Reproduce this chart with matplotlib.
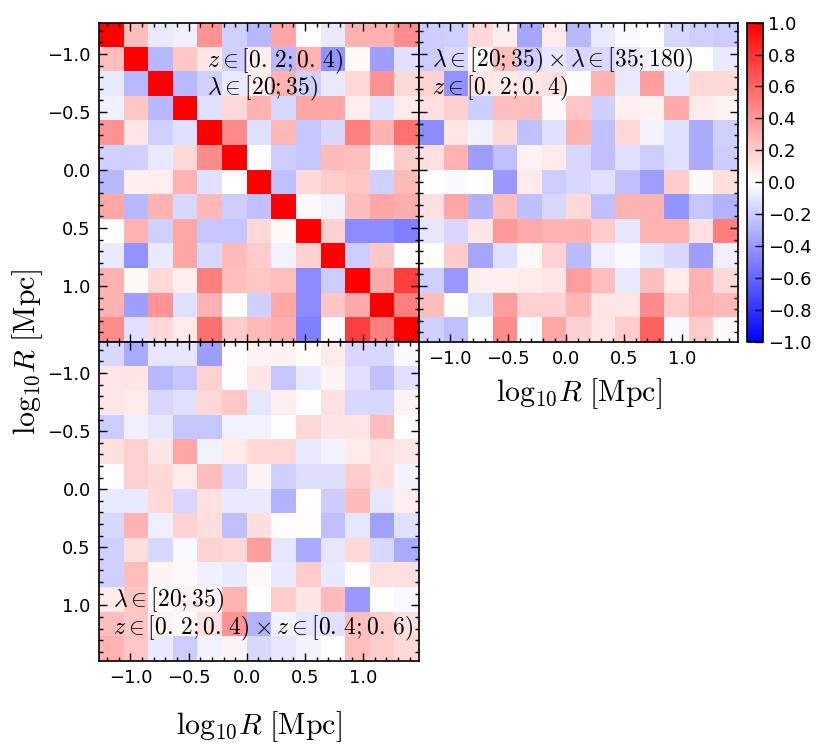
import numpy as np
import matplotlib
matplotlib.use('Agg')
import matplotlib.pyplot as plt
from matplotlib.ticker import MultipleLocator

plt.rcParams['mathtext.fontset'] = 'cm'
plt.rcParams['axes.linewidth'] = 1.2

# log10 R range of the 13 radial bins
r_lo, r_hi = -1.27, 1.48

# auto-correlation, lambda in [20;35), z in [0.2;0.4): lower triangle rows (diag = 1)
auto_lower = [
    [0.25],
    [-0.08, -0.28],
    [-0.06, 0.22, -0.28],
    [0.42, 0.10, -0.18, -0.12],
    [-0.18, -0.18, -0.08, 0.15, 0.45],
    [-0.28, 0.07, 0.07, 0.30, -0.12, 0.00],
    [0.35, -0.28, 0.30, -0.15, 0.28, -0.20, -0.25],
    [0.01, 0.30, -0.18, 0.35, -0.22, -0.22, 0.15, 0.03],
    [-0.08, -0.42, -0.08, 0.35, -0.15, 0.27, 0.20, -0.05, 0.18],
    [0.30, 0.02, 0.15, 0.07, 0.50, 0.25, 0.22, 0.25, -0.45, -0.20],
    [0.30, -0.38, 0.42, -0.12, 0.30, 0.01, -0.18, 0.35, -0.45, 0.22, 0.33],
    [0.45, -0.12, 0.15, 0.08, 0.55, 0.20, 0.27, 0.32, -0.50, 0.00, 0.75, 0.50],
]

# cross-correlation between richness bins
cross_lambda = [
    [-0.20, -0.18, 0.15, 0.07, -0.35, 0.08, -0.28, -0.08, -0.02, 0.00, -0.15, -0.18, -0.20],
    [-0.20, -0.15, 0.02, 0.25, -0.20, -0.10, -0.15, -0.15, -0.10, -0.05, 0.02, 0.00, -0.08],
    [0.18, -0.42, 0.10, 0.08, 0.10, 0.12, 0.00, 0.30, -0.08, 0.38, -0.08, 0.15, 0.15],
    [0.12, 0.18, -0.20, 0.25, 0.25, 0.03, 0.22, -0.18, 0.07, 0.05, 0.33, 0.08, 0.05],
    [-0.45, 0.10, -0.05, 0.15, -0.25, -0.12, 0.30, -0.25, 0.15, -0.04, -0.12, -0.33, -0.18],
    [0.12, 0.30, -0.38, -0.25, 0.05, 0.08, -0.15, -0.25, -0.12, -0.20, -0.12, -0.33, -0.20],
    [0.00, -0.02, 0.00, -0.40, 0.08, -0.20, -0.15, -0.12, -0.25, -0.38, 0.20, 0.02, 0.13],
    [0.12, 0.35, -0.30, 0.25, -0.25, -0.15, 0.15, -0.25, 0.30, 0.30, -0.42, -0.22, -0.30],
    [-0.10, -0.15, 0.10, 0.40, 0.33, 0.30, 0.30, 0.20, -0.10, 0.30, 0.30, 0.12, 0.50],
    [0.01, 0.20, -0.35, -0.12, 0.03, 0.17, -0.27, -0.07, -0.03, -0.10, -0.15, -0.38, -0.07],
    [-0.18, -0.40, 0.07, 0.07, 0.08, 0.10, 0.38, 0.25, -0.08, 0.25, 0.08, 0.30, 0.15],
    [0.25, 0.01, -0.12, 0.38, 0.18, 0.18, 0.28, 0.10, 0.10, 0.45, 0.20, 0.30, 0.28],
    [-0.18, -0.25, 0.00, 0.45, 0.00, 0.35, 0.18, 0.10, 0.20, 0.62, -0.03, 0.20, 0.02],
]

# cross-correlation between redshift bins
cross_z = [
    [-0.15, -0.33, -0.10, -0.10, -0.38, 0.01, 0.05, 0.05, 0.01, 0.08, -0.15, -0.15, -0.02],
    [0.10, 0.10, -0.28, -0.22, 0.18, 0.00, 0.10, -0.22, -0.08, 0.04, -0.12, -0.25, -0.12],
    [0.10, 0.08, -0.15, -0.12, 0.15, 0.22, -0.10, 0.07, 0.00, 0.12, -0.15, -0.15, 0.04],
    [-0.20, -0.06, -0.10, -0.22, -0.22, -0.05, -0.05, 0.00, 0.15, 0.10, 0.10, 0.25, 0.00],
    [0.12, 0.18, 0.10, 0.35, -0.05, 0.08, 0.15, 0.15, -0.08, -0.05, 0.08, 0.12, 0.10],
    [0.00, 0.18, 0.15, 0.08, 0.25, -0.15, 0.04, -0.18, -0.13, -0.13, 0.20, 0.13, -0.04],
    [-0.08, -0.08, 0.15, -0.15, 0.12, -0.08, -0.08, -0.30, 0.00, -0.20, 0.27, -0.10, 0.07],
    [-0.15, 0.30, -0.07, 0.17, 0.13, -0.25, 0.13, 0.01, 0.01, -0.25, -0.10, -0.37, -0.12],
    [-0.18, 0.13, -0.15, -0.02, 0.17, 0.15, 0.38, -0.10, -0.33, -0.10, 0.15, -0.15, -0.33],
    [-0.18, 0.25, 0.04, 0.03, -0.06, -0.08, 0.03, -0.08, 0.20, -0.08, 0.00, 0.12, 0.12],
    [0.08, 0.22, 0.02, 0.05, 0.05, 0.30, 0.00, 0.20, 0.10, 0.27, -0.40, 0.00, -0.03],
    [0.25, 0.22, 0.05, 0.02, 0.12, 0.42, -0.30, -0.05, -0.10, -0.12, 0.25, 0.20, 0.12],
    [0.30, 0.22, -0.08, -0.20, -0.05, 0.04, -0.15, -0.10, -0.04, 0.00, 0.25, 0.20, 0.15],
]

cbar_ticks = np.linspace(-1, 1, 11)
rlabel = r'$\mathrm{log}_{10}R\ [\mathrm{Mpc}]$'


def build_symmetric(lower):
    n = len(lower) + 1
    m = np.eye(n)
    for i, row in enumerate(lower, start=1):
        m[i, :i] = row
        m[:i, i] = row
    return m


def draw(ax, mat, show_x, show_y):
    im = ax.imshow(np.array(mat), cmap='bwr', vmin=-1, vmax=1,
                   interpolation='nearest', aspect='auto',
                   extent=[r_lo, r_hi, r_hi, r_lo])
    for axis in (ax.xaxis, ax.yaxis):
        axis.set_major_locator(MultipleLocator(0.5))
        axis.set_minor_locator(MultipleLocator(0.1))
    ax.tick_params(which='both', direction='in', top=True, right=True,
                   labelsize=13, pad=6)
    ax.tick_params(which='major', length=6, width=1)
    ax.tick_params(which='minor', length=3, width=1)
    ax.tick_params(labelbottom=show_x, labelleft=show_y)
    return im


fig = plt.figure(figsize=(8.3, 7.54), dpi=100)
ax1 = fig.add_axes([0.1193, 0.5468, 0.3855, 0.4231])
ax2 = fig.add_axes([0.5048, 0.5468, 0.3843, 0.4231])
ax3 = fig.add_axes([0.1193, 0.1233, 0.3855, 0.4235])
cax = fig.add_axes([0.9, 0.5468, 0.0193, 0.4231])

im = draw(ax1, build_symmetric(auto_lower), False, True)
draw(ax2, cross_lambda, True, False)
draw(ax3, cross_z, True, True)

kw = dict(fontsize=17, ha='left', va='center')
ax1.text(0.336, 0.878, r'$z\in[0.\,2;0.\,4)$', transform=ax1.transAxes, **kw)
ax1.text(0.336, 0.795, r'$\lambda\in[20;35)$', transform=ax1.transAxes, **kw)
ax2.text(0.04, 0.883, r'$\lambda\in[20;35)\times\lambda\in[35;180)$',
         transform=ax2.transAxes, **kw)
ax2.text(0.04, 0.794, r'$z\in[0.\,2;0.\,4)$', transform=ax2.transAxes, **kw)
ax3.text(0.044, 0.191, r'$\lambda\in[20;35)$', transform=ax3.transAxes, **kw)
ax3.text(0.044, 0.102, r'$z\in[0.\,2;0.\,4)\times z\in[0.\,4;0.\,6)$',
         transform=ax3.transAxes, **kw)

ax2.set_xlabel(rlabel, fontsize=21.5, labelpad=6)
ax3.set_xlabel(rlabel, fontsize=21.5, labelpad=16)
fig.text(0.033, 0.533, rlabel, fontsize=21.5, rotation=90, ha='center', va='center')

cb = fig.colorbar(im, cax=cax, ticks=cbar_ticks)
cb.ax.tick_params(labelsize=13, direction='in', length=6, width=1)
cb.outline.set_linewidth(1.2)

fig.savefig('out.png', dpi=100)
